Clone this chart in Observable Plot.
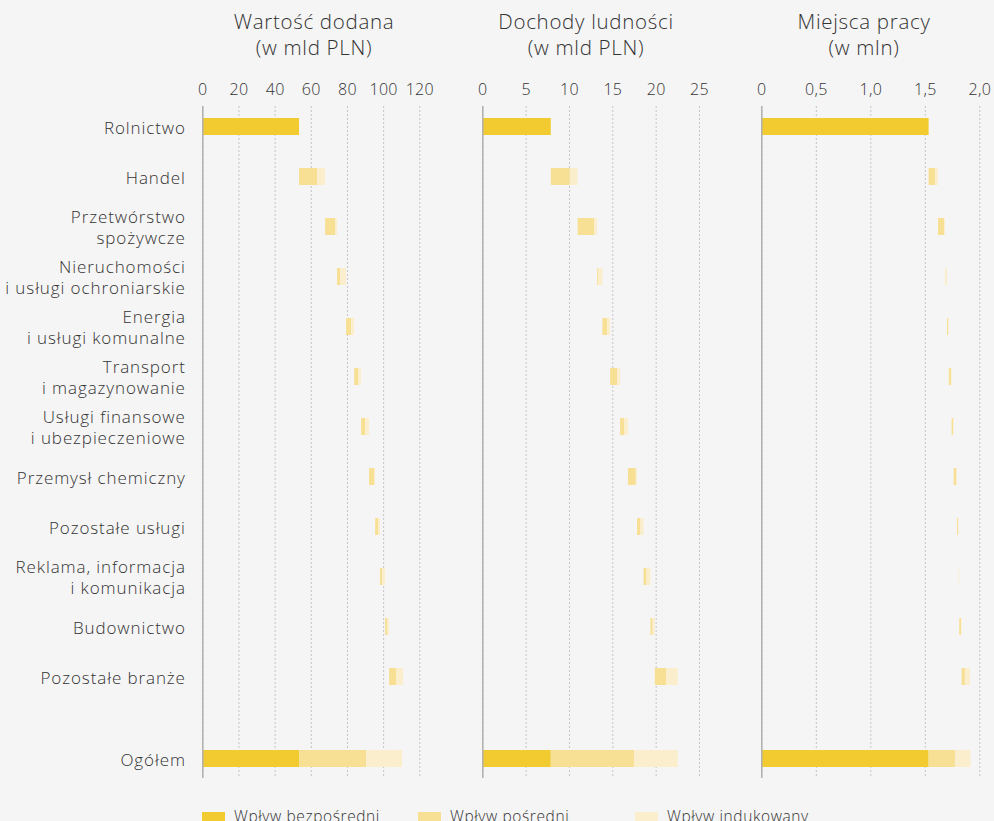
<!DOCTYPE html>
<html>
<head>
<meta charset="utf-8">
<script src="https://cdn.jsdelivr.net/npm/d3@7"></script>
<script src="https://cdn.jsdelivr.net/npm/@observablehq/plot@0.6"></script>
<style>
  html, body { margin: 0; padding: 0; background: #f5f5f5; }
  #wrap { position: relative; width: 994px; height: 821px; overflow: hidden; background: #f5f5f5; font-family: "Open Sans", sans-serif; color: #333; }
  .title { position: absolute; top: 8px; width: 260px; text-align: center; font-size: 20.5px; line-height: 26px; font-weight: 300; color: #333; letter-spacing: 0.7px; }
  .panel { position: absolute; top: 60px; font-weight: 300; letter-spacing: 0.3px; }
  .panel g[aria-label="y-axis tick label"] { letter-spacing: 0.9px; }
  .legend { position: absolute; top: 806px; font-size: 15.5px; line-height: 20px; color: #333; font-weight: 300; white-space: nowrap; letter-spacing: 0.6px; }
  .sw { position: absolute; top: 6px; width: 23px; height: 12px; }
</style>
</head>
<body>
<div id="wrap"></div>
<script>
// ---- data ----
const sectors = [
  "Rolnictwo", "Handel", "Przetwórstwo\nspożywcze", "Nieruchomości\ni usługi ochroniarskie",
  "Energia\ni usługi komunalne", "Transport\ni magazynowanie", "Usługi finansowe\ni ubezpieczeniowe",
  "Przemysł chemiczny", "Pozostałe usługi", "Reklama, informacja\ni komunikacja",
  "Budownictwo", "Pozostałe branże"
];
const totalLabel = "Ogółem";
const seriesNames = ["Wpływ bezpośredni", "Wpływ pośredni", "Wpływ indukowany"];
const seriesColors = ["#F2CB30", "#F7DF94", "#FBEECD"];

// Wartość dodana (mld PLN)
const vaDirect = 53.5;
const vaIndirect = [10.0, 5.5, 1.7, 2.8, 2.2, 2.2, 2.8, 1.6, 1.1, 1.1, 3.9];
const vaInduced  = [4.4, 1.1, 3.3, 1.7, 1.6, 2.2, 0.6, 1.1, 1.7, 1.1, 3.9];
const vaTotal    = [53.5, 37.1, 19.9];
const vaTicks    = [0, 20, 40, 60, 80, 100, 120];

// Dochody ludności (mld PLN)
const incDirect = 7.9;
const incIndirect = [2.2, 1.9, 0.15, 0.55, 0.8, 0.45, 0.9, 0.4, 0.35, 0.25, 1.3];
const incInduced  = [0.9, 0.35, 0.45, 0.35, 0.35, 0.45, 0.15, 0.35, 0.45, 0.25, 1.35];
const incTotal    = [7.9, 9.6, 5.05];
const incTicks    = [0, 5, 10, 15, 20, 25];

// Miejsca pracy (mln)
const jobDirect = 1.535;
const jobIndirect = [0.058, 0.055, 0.004, 0.009, 0.02, 0.013, 0.021, 0.009, 0.002, 0.016, 0.03];
const jobInduced  = [0.028, 0.009, 0.015, 0.007, 0.006, 0.006, 0.009, 0.006, 0.004, 0.006, 0.047];
const jobTotal    = [1.535, 0.245, 0.138];
const jobTicks    = [0, 0.5, 1, 1.5, 2];

const panelTitles = ["Wartość dodana\n(w mld PLN)", "Dochody ludności\n(w mld PLN)", "Miejsca pracy\n(w mln)"];

// ---- layout helpers ----
const totalGap = 0.64;               // extra space before the total row
const totalPos = sectors.length + totalGap;
const yPositions = [...sectors.map((_, i) => i), totalPos];
const yLabels = new Map(yPositions.map((p, i) => [p, i < sectors.length ? sectors[i] : totalLabel]));
const half = 0.17;

function segments(direct, indirect, induced, total) {
  const segs = [{y: 0, x1: 0, x2: direct, s: 0}];
  let cum = direct;
  indirect.forEach((p, k) => {
    const i = k + 1;
    segs.push({y: i, x1: cum, x2: cum + p, s: 1});
    segs.push({y: i, x1: cum + p, x2: cum + p + induced[k], s: 2});
    cum += p + induced[k];
  });
  let c = 0;
  total.forEach((v, s) => { segs.push({y: totalPos, x1: c, x2: c + v, s}); c += v; });
  return segs;
}

const panels = [
  {segs: segments(vaDirect, vaIndirect, vaInduced, vaTotal), ticks: vaTicks, domain: [0, 120], left: 0, width: 440, ml: 202.3, mr: 20.7, fmt: d => String(d), yAxis: true, titleCenter: 314},
  {segs: segments(incDirect, incIndirect, incInduced, incTotal), ticks: incTicks, domain: [0, 25], left: 462, width: 257, ml: 20.3, mr: 20, fmt: d => String(d), yAxis: false, titleCenter: 586},
  {segs: segments(jobDirect, jobIndirect, jobInduced, jobTotal), ticks: jobTicks, domain: [0, 2], left: 741, width: 253, ml: 20.3, mr: 14.7, fmt: d => d === 0 ? "0" : d.toFixed(1).replace(".", ","), yAxis: false, titleCenter: 864}
];

const wrap = document.getElementById("wrap");

panels.forEach((p, pi) => {
  const marks = [
    Plot.gridX(p.ticks, {stroke: "#c4c4c4", strokeOpacity: 1, strokeDasharray: "2,2", strokeWidth: 1}),
    Plot.rect(p.segs, {x1: "x1", x2: "x2", y1: d => d.y - half, y2: d => d.y + half, fill: d => seriesColors[d.s]}),
    Plot.ruleX([0], {stroke: "#b0b0b0", strokeWidth: 1.5}),
    Plot.axisX(p.ticks, {anchor: "top", tickSize: 0, tickPadding: 12, tickFormat: p.fmt, fontSize: 16, fill: "#333"})
  ];
  if (p.yAxis) {
    marks.push(Plot.axisY(yPositions, {anchor: "left", tickSize: 0, tickPadding: 17, tickFormat: d => yLabels.get(d), fontSize: 17, lineHeight: 1.2, fill: "#333"}));
  }
  const chart = Plot.plot({
    width: p.width,
    height: 740,
    marginLeft: p.ml,
    marginRight: p.mr,
    marginTop: 46,
    marginBottom: 22,
    style: {background: "transparent", fontFamily: "'Open Sans', sans-serif", overflow: "visible"},
    x: {domain: p.domain},
    y: {domain: [-0.41, 13.03], reverse: true, axis: p.yAxis ? undefined : null},
    marks
  });
  chart.classList.add("panel");
  chart.style.left = p.left + "px";
  wrap.appendChild(chart);

  const t = document.createElement("div");
  t.className = "title";
  t.style.left = (p.titleCenter - 130) + "px";
  t.innerHTML = panelTitles[pi].split("\n").join("<br>");
  wrap.appendChild(t);
});

// legend
const legendX = [202, 418, 635];
seriesNames.forEach((name, i) => {
  const d = document.createElement("div");
  d.className = "legend";
  d.style.left = legendX[i] + "px";
  d.innerHTML = `<span class="sw" style="left:0;background:${seriesColors[i]}"></span><span style="margin-left:32px">${name}</span>`;
  wrap.appendChild(d);
});
</script>
</body>
</html>
